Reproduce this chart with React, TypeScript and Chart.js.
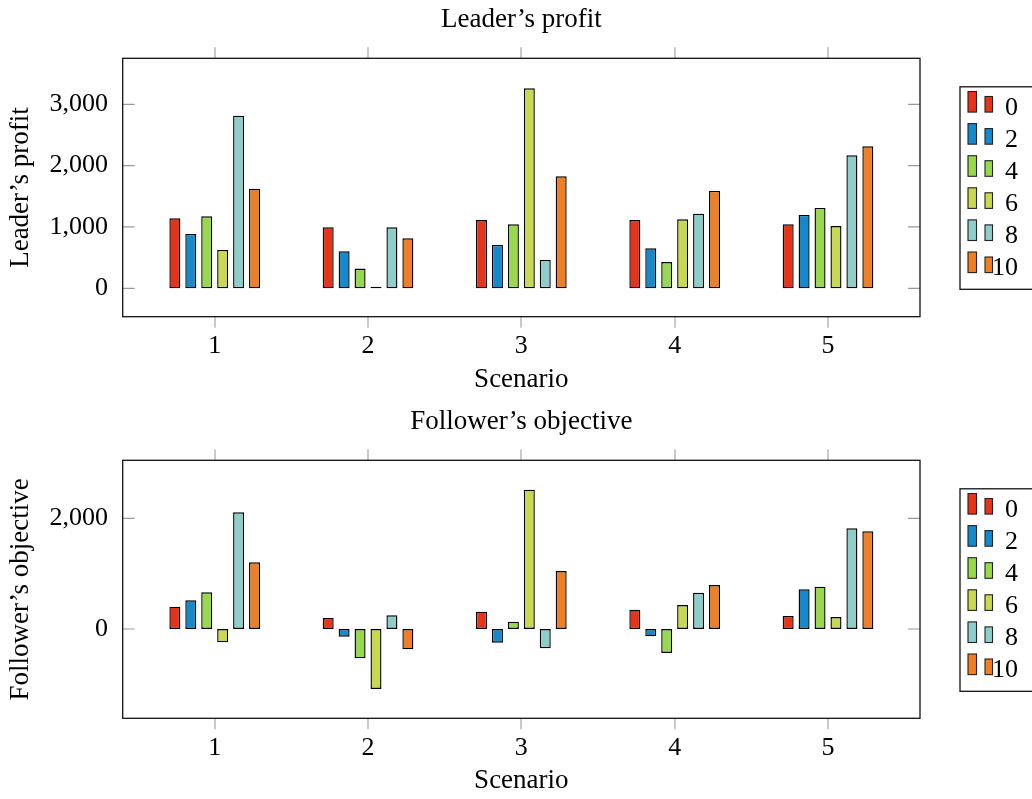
import React, { useEffect, useRef } from 'react';
import { Chart, registerables } from 'chart.js';

Chart.register(...registerables);

// ---- data ----
const scenarios = [1, 2, 3, 4, 5];
const seriesLabels = ['0', '2', '4', '6', '8', '10'];
const seriesColors = ['#e6341a', '#1689cd', '#97d84f', '#c8d850', '#8dceca', '#ef7f24'];

const leader0 = [1141, 995, 1114, 1114, 1043];
const leader2 = [886, 603, 707, 652, 1196];
const leader4 = [1174, 321, 1043, 429, 1310];
const leader6 = [625, 27, 3261, 1125, 1016];
const leader8 = [2815, 995, 462, 1217, 2168];
const leader10 = [1625, 815, 1826, 1587, 2315];

const follower0 = [404, 199, 313, 349, 235];
const follower2 = [518, -139, -247, -133, 717];
const follower4 = [663, -530, 133, -434, 765];
const follower6 = [-241, -1084, 2518, 434, 217];
const follower8 = [2108, 247, -349, 657, 1819];
const follower10 = [1205, -367, 1048, 795, 1765];

const leaderTicks = [0, 1000, 2000, 3000];
const followerTicks = [0, 2000];

const FONT = "'Liberation Serif', 'DejaVu Serif', serif";

const framePlugin = {
  id: 'frameTicks',
  afterDatasetsDraw(chart: any) {
    const { ctx, chartArea: a, scales } = chart;
    ctx.save();
    ctx.strokeStyle = '#bdbdbd';
    ctx.lineWidth = 1.6;
    for (const t of scales.x.ticks) {
      const px = Math.round(scales.x.getPixelForValue(t.value));
      ctx.beginPath();
      ctx.moveTo(px, a.top - 11);
      ctx.lineTo(px, a.top);
      ctx.moveTo(px, a.bottom);
      ctx.lineTo(px, a.bottom + 11);
      ctx.stroke();
    }
    ctx.strokeStyle = '#9a9a9a';
    ctx.lineWidth = 1.2;
    for (const t of scales.y.ticks) {
      const py = scales.y.getPixelForValue(t.value);
      ctx.beginPath();
      ctx.moveTo(a.left, py);
      ctx.lineTo(a.left + 12, py);
      ctx.moveTo(a.right - 12, py);
      ctx.lineTo(a.right, py);
      ctx.stroke();
    }
    ctx.strokeStyle = '#111';
    ctx.lineWidth = 1.3;
    ctx.strokeRect(a.left, a.top, a.right - a.left, a.bottom - a.top);
    ctx.restore();
  },
};

const legendPlugin = {
  id: 'boxLegend',
  afterDraw(chart: any) {
    const { ctx, chartArea: a } = chart;
    const x0 = a.right + 40;
    const y0 = a.top + 28.5;
    ctx.save();
    ctx.fillStyle = '#fff';
    ctx.fillRect(x0, y0, 140, 202.5);
    ctx.strokeStyle = '#111';
    ctx.lineWidth = 1.3;
    ctx.strokeRect(x0, y0, 140, 202.5);
    ctx.font = `26px ${FONT}`;
    ctx.textAlign = 'right';
    ctx.textBaseline = 'alphabetic';
    chart.data.datasets.forEach((ds: any, i: number) => {
      const yb = y0 + 25.3 + i * 32.1;
      ctx.fillStyle = ds.backgroundColor;
      ctx.strokeStyle = '#222';
      ctx.lineWidth = 1.1;
      ctx.fillRect(x0 + 8, yb - 20.6, 8.5, 20.6);
      ctx.strokeRect(x0 + 8, yb - 20.6, 8.5, 20.6);
      ctx.fillRect(x0 + 25, yb - 15.6, 7.5, 15.6);
      ctx.strokeRect(x0 + 25, yb - 15.6, 7.5, 15.6);
      ctx.fillStyle = '#000';
      ctx.fillText(ds.label, x0 + 58, yb + 2.7);
    });
    ctx.restore();
  },
};

function makeConfig(
  title: string,
  yTitle: string,
  values: number[][],
  yMin: number,
  yMax: number,
  yTicks: number[],
  titleTop: number,
  topHeight: number,
  xHeight: number,
  xTitleBottom: number,
): any {
  const tickFont = { family: FONT, size: 26, weight: 'normal' as const };
  const titleFont = { family: FONT, size: 27, weight: 'normal' as const };
  const scenarioTicks = (s: any) => {
    s.ticks = scenarios.map((v) => ({ value: v }));
  };
  return {
    type: 'bar',
    data: {
      datasets: seriesLabels.map((lab, i) => ({
        label: lab,
        data: scenarios.map((s, j) => ({ x: s, y: values[i][j] })),
        xAxisID: 'x',
        yAxisID: 'y',
        backgroundColor: seriesColors[i],
        borderColor: '#000',
        borderWidth: 1.4,
        borderSkipped: false,
        categoryPercentage: 0.6235,
        barPercentage: 0.69,
      })),
    },
    options: {
      responsive: false,
      animation: false,
      layout: { padding: { left: 0, right: 112, top: 0, bottom: 0 } },
      plugins: {
        legend: { display: false },
        tooltip: { enabled: false },
        title: { display: false },
      },
      scales: {
        x: {
          type: 'linear',
          position: 'bottom',
          min: 0.4,
          max: 5.6,
          offset: false,
          grid: { display: false, drawTicks: false },
          border: { display: false },
          afterBuildTicks: scenarioTicks,
          afterFit: (s: any) => {
            s.height = xHeight;
          },
          ticks: {
            padding: 14,
            color: '#000',
            font: tickFont,
            maxRotation: 0,
            autoSkip: false,
            callback: (v: any) => String(v),
          },
          title: {
            display: true,
            text: 'Scenario',
            color: '#000',
            font: titleFont,
            padding: { top: 0, bottom: xTitleBottom },
          },
        },
        xTop: {
          type: 'linear',
          position: 'top',
          min: 0.4,
          max: 5.6,
          offset: false,
          grid: { display: false, drawTicks: false },
          border: { display: false },
          ticks: { display: false },
          afterBuildTicks: scenarioTicks,
          afterFit: (s: any) => {
            s.height = topHeight;
          },
          title: {
            display: true,
            text: title,
            color: '#000',
            font: titleFont,
            padding: { top: titleTop, bottom: 0 },
          },
        },
        y: {
          type: 'linear',
          min: yMin,
          max: yMax,
          grid: { display: false, drawTicks: false },
          border: { display: false },
          afterBuildTicks: (s: any) => {
            s.ticks = yTicks.map((v) => ({ value: v }));
          },
          afterFit: (s: any) => {
            s.width = 122.7;
          },
          ticks: {
            padding: 14.7,
            color: '#000',
            font: tickFont,
            callback: (v: any) => Number(v).toLocaleString('en-US'),
          },
          title: {
            display: true,
            text: yTitle,
            color: '#000',
            font: titleFont,
            padding: { top: 4.8, bottom: 0 },
          },
        },
      },
    },
    plugins: [framePlugin, legendPlugin],
  };
}

function ChartCanvas({ config, height }: { config: () => any; height: number }) {
  const ref = useRef<HTMLCanvasElement | null>(null);
  useEffect(() => {
    if (!ref.current) return;
    const chart = new Chart(ref.current, config());
    return () => chart.destroy();
  }, []);
  return <canvas ref={ref} width={1032} height={height} style={{ display: 'block', width: 1032, height }} />;
}

export default function App() {
  return (
    <div style={{ position: 'absolute', left: 0, top: 0, width: 1032, height: 799, background: '#fff', overflow: 'hidden' }}>
      <ChartCanvas
        height={400}
        config={() =>
          makeConfig(
            'Leader\u2019s profit',
            'Leader\u2019s profit',
            [leader0, leader2, leader4, leader6, leader8, leader10],
            -463,
            3750,
            leaderTicks,
            3.8,
            58.3,
            83.3,
            4,
          )
        }
      />
      <ChartCanvas
        height={399}
        config={() =>
          makeConfig(
            'Follower\u2019s objective',
            'Follower\u2019s objective',
            [follower0, follower2, follower4, follower6, follower8, follower10],
            -1614,
            3049,
            followerTicks,
            5.8,
            60.3,
            80.7,
            2,
          )
        }
      />
    </div>
  );
}
